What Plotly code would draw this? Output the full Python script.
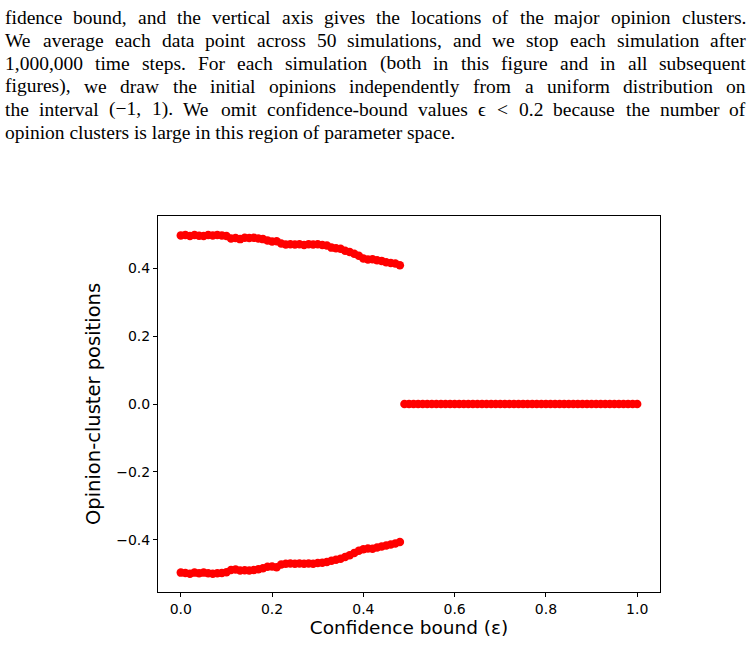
import numpy as np
import plotly.graph_objects as go

# ---- data ----
eps_split = [round(0.01 * i, 2) for i in range(0, 49)]   # 0.00 .. 0.48
upper = [0.496, 0.497, 0.494, 0.497, 0.495, 0.494, 0.497, 0.496, 0.497, 0.496,
         0.494, 0.487, 0.488, 0.485, 0.489, 0.488, 0.489, 0.487, 0.485, 0.481,
         0.478, 0.479, 0.472, 0.469, 0.470, 0.469, 0.470, 0.468, 0.470, 0.469,
         0.470, 0.468, 0.466, 0.460, 0.458, 0.457, 0.451, 0.447, 0.442, 0.436,
         0.428, 0.425, 0.426, 0.423, 0.421, 0.417, 0.415, 0.413, 0.408]
lower = [-0.496, -0.497, -0.499, -0.496, -0.498, -0.496, -0.498, -0.499, -0.498, -0.497,
         -0.495, -0.488, -0.487, -0.490, -0.489, -0.490, -0.488, -0.486, -0.483, -0.479,
         -0.478, -0.480, -0.472, -0.470, -0.469, -0.470, -0.469, -0.470, -0.469, -0.470,
         -0.468, -0.467, -0.465, -0.461, -0.458, -0.455, -0.450, -0.445, -0.438, -0.432,
         -0.427, -0.425, -0.426, -0.422, -0.419, -0.416, -0.413, -0.410, -0.406]
eps_consensus = [round(0.01 * i, 2) for i in range(49, 101)]  # 0.49 .. 1.00
consensus = [0.0] * len(eps_consensus)

x_ticks = [0.0, 0.2, 0.4, 0.6, 0.8, 1.0]
y_ticks = [-0.4, -0.2, 0.0, 0.2, 0.4]

paper_lines = [
    "fidence bound, and the vertical axis gives the locations of the major opinion clusters.",
    "We average each data point across 50 simulations, and we stop each simulation after",
    "1,000,000 time steps. For each simulation (both in this figure and in all subsequent",
    "figures), we draw the initial opinions independently from a uniform distribution on",
    "the interval (\u22121, 1). We omit confidence-bound values \u03f5 < 0.2 because the number of",
    "opinion clusters is large in this region of parameter space.",
]
justified = [True, True, True, True, True, False]
line_y_px = [17, 40, 63, 86, 109, 132]

# ---- approximate Times/Liberation Serif advance widths (per 1000 em) ----
TW = dict(zip("abcdefghijklmnopqrstuvwxyz",
              [444, 500, 444, 500, 444, 333, 500, 500, 278, 278, 500, 278, 778,
               500, 500, 500, 500, 333, 389, 278, 500, 500, 722, 500, 500, 444]))
TW.update(dict(zip("ABCDEFGHIJKLMNOPQRSTUVWXYZ",
                   [722, 667, 667, 722, 611, 556, 722, 722, 333, 389, 722, 611, 889,
                    722, 722, 556, 722, 667, 556, 611, 722, 722, 944, 722, 722, 611])))
TW.update({c: 500 for c in "0123456789"})
TW.update({",": 250, ".": 250, "(": 333, ")": 333, "-": 333, "<": 564,
           "\u2212": 564, "\u03f5": 430, " ": 250})


def text_w(s, size):
    return sum(TW.get(c, 500) for c in s) * size / 1000.0


# ---- figure ----
W, H = 751, 645
ml, mr, mt, mb = 158, 91, 216, 53
pw = W - ml - mr
ph = H - mt - mb
TXT_SIZE = 19.5
X0, X1 = 5, 746

fig = go.Figure()
mk = dict(color="red", size=8.5, line=dict(width=0))
for xs, ys in [(eps_split, upper), (eps_split, lower), (eps_consensus, consensus)]:
    fig.add_trace(go.Scatter(x=xs, y=ys, mode="markers", marker=mk,
                             showlegend=False, hoverinfo="x+y"))

axis_common = dict(showgrid=False, zeroline=False, showline=True, linecolor="black",
                   linewidth=1, mirror=True, ticks="outside", ticklen=4,
                   tickcolor="black", tickwidth=1,
                   tickfont=dict(family="DejaVu Sans", size=14, color="black"))

fig.update_xaxes(range=[-0.05, 1.05], tickvals=x_ticks, tickformat=".1f",
                 title=dict(text="Confidence bound (\u03b5)",
                            font=dict(family="DejaVu Sans", size=18.5, color="black"),
                            standoff=4),
                 **axis_common)
fig.update_yaxes(range=[-0.553, 0.553], tickvals=y_ticks, tickformat=".1f",
                 title=dict(text="Opinion-cluster positions",
                            font=dict(family="DejaVu Sans", size=19.5, color="black"),
                            standoff=10),
                 **axis_common)

txt_font = dict(family="Liberation Serif", size=TXT_SIZE, color="black")


def px_to_paper_x(px):
    return (px - ml) / pw


def px_to_paper_y(py):
    return (H - mb - py) / ph


for txt, ypx, just in zip(paper_lines, line_y_px, justified):
    if not just:
        fig.add_annotation(text=txt, xref="paper", yref="paper",
                           x=px_to_paper_x(X0), y=px_to_paper_y(ypx),
                           xanchor="left", yanchor="middle", showarrow=False,
                           borderpad=0, borderwidth=0, font=txt_font)
        continue
    words = txt.split(" ")
    widths = [text_w(w, TXT_SIZE) for w in words]
    gap = (X1 - X0 - sum(widths)) / (len(words) - 1)
    xpos = X0
    for i, (w, wd) in enumerate(zip(words, widths)):
        if i == len(words) - 1:
            fig.add_annotation(text=w, xref="paper", yref="paper",
                               x=px_to_paper_x(X1), y=px_to_paper_y(ypx),
                               xanchor="right", yanchor="middle", showarrow=False,
                               borderpad=0, borderwidth=0, font=txt_font)
        else:
            fig.add_annotation(text=w, xref="paper", yref="paper",
                               x=px_to_paper_x(xpos), y=px_to_paper_y(ypx),
                               xanchor="left", yanchor="middle", showarrow=False,
                               borderpad=0, borderwidth=0, font=txt_font)
        xpos += wd + gap

fig.update_layout(width=W, height=H, margin=dict(l=ml, r=mr, t=mt, b=mb),
                  plot_bgcolor="white", paper_bgcolor="white")

fig.write_html("out.html")
